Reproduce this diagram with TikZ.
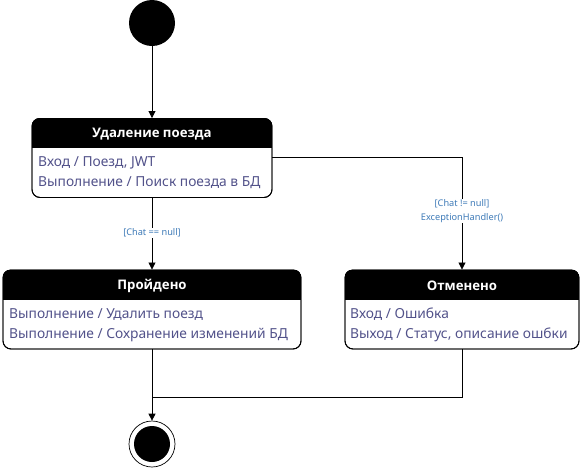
\documentclass[tikz,border=0pt]{standalone}
\usepackage{fontspec}
\setmainfont{Noto Sans}
\newfontfamily\headfont{Open Sans}
\usetikzlibrary{arrows.meta,calc}
\definecolor{bodytext}{HTML}{52528A}
\definecolor{guardtext}{HTML}{3F7BB8}
\tikzset{
  x=1pt, y=-1pt,
  statebox/.style={draw, rounded corners=8pt, line width=0.9pt, inner sep=0pt},
  headtext/.style={text=white, font=\headfont\bfseries\fontsize{13.2}{15}\selectfont},
  bodytxt/.style={text=bodytext, anchor=west, align=left, inner sep=0pt,
    font=\fontsize{13.8}{20}\selectfont},
  guard/.style={text=guardtext, fill=white, align=center, inner sep=1pt,
    font=\fontsize{9.2}{13.5}\selectfont},
  flow/.style={draw, line width=0.8pt, -{Triangle[width=7pt,length=7pt]}},
  plain/.style={draw, line width=0.8pt},
}
\begin{document}
\begin{tikzpicture}
\useasboundingbox (0,0) rectangle (581,469);

% initial pseudo-state
\node[circle, fill=black, minimum size=46pt, inner sep=0pt] (init) at (152,23) {};

% state: Удаление поезда
\node[statebox, minimum width=240pt, minimum height=79pt] (del) at (152,158) {};
\begin{scope}
  \clip[rounded corners=8pt] (del.north west) rectangle (del.south east);
  \fill (del.north west) rectangle ($(del.north east)+(0,30)$);
\end{scope}
\node[statebox, minimum width=240pt, minimum height=79pt] at (del) {};
\node[headtext] (delh) at (152,134.5) {Удаление поезда};
\node[bodytxt] (delb) at (38,173) {Вход / Поезд, JWT\\Выполнение / Поиск поезда в БД};

% state: Пройдено
\node[statebox, minimum width=298pt, minimum height=79pt] (done) at (152,309.5) {};
\begin{scope}
  \clip[rounded corners=8pt] (done.north west) rectangle (done.south east);
  \fill (done.north west) rectangle ($(done.north east)+(0,30.5)$);
\end{scope}
\node[statebox, minimum width=298pt, minimum height=79pt] at (done) {};
\node[headtext] (doneh) at (152,285.5) {Пройдено};
\node[bodytxt] (doneb) at (9,325) {Выполнение / Удалить поезд\\Выполнение / Сохранение изменений БД};

% state: Отменено
\node[statebox, minimum width=234pt, minimum height=79pt] (canc) at (462,309.5) {};
\begin{scope}
  \clip[rounded corners=8pt] (canc.north west) rectangle (canc.south east);
  \fill (canc.north west) rectangle ($(canc.north east)+(0,30)$);
\end{scope}
\node[statebox, minimum width=234pt, minimum height=79pt] at (canc) {};
\node[headtext] (canch) at (462,285.5) {Отменено};
\node[bodytxt] (cancb) at (350,325) {Вход / Ошибка\\Выход / Статус, описание ошбки};

% final pseudo-state
\node[circle, draw, line width=0.7pt, minimum size=46pt, inner sep=0pt] (fin) at (152,444) {};
\node[circle, fill=black, minimum size=36pt, inner sep=0pt] (finc) at (fin) {};

% helper points for routed connectors
\coordinate (turn1) at (462,157);
\coordinate (join) at (152,397);
\coordinate (turn2) at (462,397);

% transitions
\path[flow] (init) -- (del);
\path[flow] (del) -- (done);
\node[guard] (g1) at (152,233) {[Chat == null]};
\path[flow] (del.east |- turn1) -- (turn1) -- (canc.north);
\node[guard] (g2) at (462,211) {[Chat != null]\\ExceptionHandler()};
\path[flow] (done.south) -- (fin.north);
\path[plain] (canc.south) -- (turn2) -- (join);
\end{tikzpicture}
\end{document}
